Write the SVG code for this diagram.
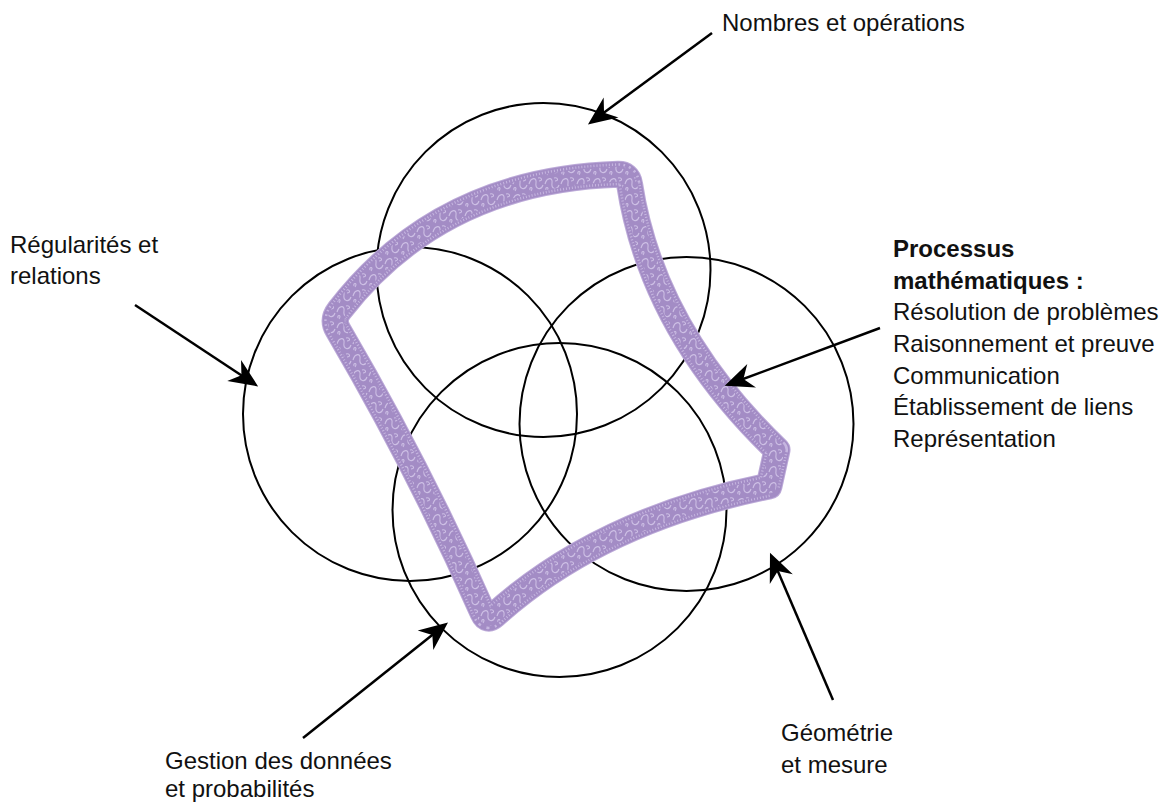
<svg xmlns="http://www.w3.org/2000/svg" width="1167" height="803" viewBox="0 0 1167 803">
<defs>
<style>
.circ{fill:none;stroke:#000;stroke-width:2}
.lbl{font-family:"Liberation Sans",Arial,sans-serif;font-size:24px;fill:#111}
.b{font-weight:bold}
.conn{stroke:#000;stroke-width:2.5;fill:none;marker-end:url(#ah)}
.band{fill:none;stroke-linejoin:round}
</style>
<marker id="ah" markerUnits="userSpaceOnUse" orient="auto" markerWidth="40" markerHeight="30" refX="0" refY="0" viewBox="-14 -12 28 24" overflow="visible">
<path d="M10,0 L-13,-10 L-6,0 L-13,10 Z" fill="#000"/>
</marker>
<pattern id="squig" patternUnits="userSpaceOnUse" width="16" height="16">
<rect width="16" height="16" fill="#a38cc5"/>
<path d="M1,8 C3,1 9,1 8,7 C7,13 13,15 15,9 M3,15 C6,11 1,10 2,14 M10,2 C14,1 15,5 11,5" fill="none" stroke="#cdbfe5" stroke-width="1.1"/>
</pattern>
<path id="loop" d="M 629.5,183.9 Q 652,330 777,450 L 769,486 Q 600,520 494.4,615.3 Q 487,622 483,612.9 Q 420,470 338,330 Q 332,320 339.3,310.5 Q 440,180 618,174.3 Q 628,174 629.5,183.9 Z"/>
</defs>
<rect width="1167" height="803" fill="#fff"/>
<g id="circles">
<circle id="c-nombres" class="circ" cx="543.5" cy="270" r="167"/>
<circle id="c-regularites" class="circ" cx="410" cy="414" r="167"/>
<circle id="c-geometrie" class="circ" cx="686.5" cy="424" r="167"/>
<circle id="c-gestion" class="circ" cx="559.5" cy="510" r="167"/>
</g>
<g id="processus-band">
<use href="#loop" class="band" stroke="#bcaad8" stroke-width="27"/>
<use href="#loop" class="band" stroke="#a38cc5" stroke-width="25"/>
<use href="#loop" class="band" stroke="#c6b6e0" stroke-width="22" stroke-dasharray="1 2"/>
<use href="#loop" class="band" stroke="#a38cc5" stroke-width="17"/>
<use href="#loop" class="band" stroke="url(#squig)" stroke-width="15"/>
</g>
<g id="connectors">
<line class="conn" x1="712" y1="33" x2="598" y2="117.1"/>
<line class="conn" x1="135" y1="305" x2="247.7" y2="379.5"/>
<line class="conn" x1="880" y1="328" x2="736.4" y2="381.5"/>
<line class="conn" x1="833" y1="700" x2="774.9" y2="564.2"/>
<line class="conn" x1="303" y1="738" x2="438.2" y2="630.2"/>
</g>
<g id="label-nombres"><text class="lbl" x="722" y="31">Nombres et opérations</text></g>
<g id="label-regularites"><text class="lbl" x="10" y="253">Régularités et</text><text class="lbl" x="10" y="284">relations</text></g>
<g id="label-processus">
<text class="lbl b" x="893" y="257">Processus</text>
<text class="lbl b" x="893" y="289">mathématiques :</text>
<text class="lbl" x="893" y="320">Résolution de problèmes</text>
<text class="lbl" x="893" y="352">Raisonnement et preuve</text>
<text class="lbl" x="893" y="384">Communication</text>
<text class="lbl" x="893" y="415">Établissement de liens</text>
<text class="lbl" x="893" y="447">Représentation</text>
</g>
<g id="label-geometrie"><text class="lbl" x="781" y="741">Géométrie</text><text class="lbl" x="781" y="773">et mesure</text></g>
<g id="label-gestion"><text class="lbl" x="165" y="769">Gestion des données</text><text class="lbl" x="165" y="797">et probabilités</text></g>
</svg>
